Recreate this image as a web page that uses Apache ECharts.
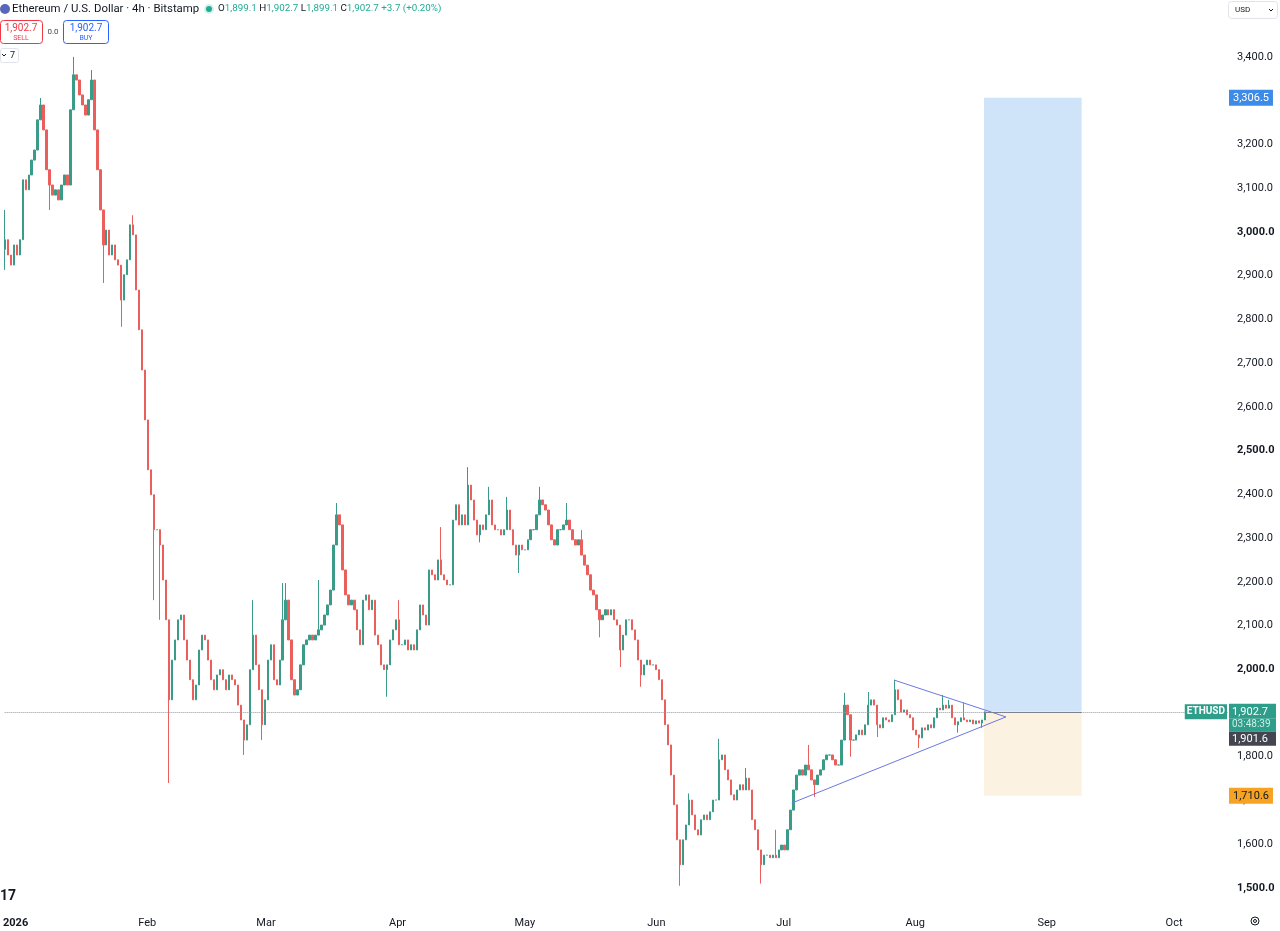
<!DOCTYPE html>
<html><head><meta charset="utf-8">
<script src="https://cdn.jsdelivr.net/npm/echarts@6/dist/echarts.min.js"></script>
<style>html,body{margin:0;padding:0;background:#fff;overflow:hidden}#c{width:1280px;height:931px}</style>
</head><body><div id="c"></div>
<script>
// ---- data ----
const START_TIME = '2025-12-29T10:30:00';
const STEP_HOURS = 16.9;
const FIRST_OPEN = 2960;
const closes = [
2982,2947,2924,2970,2947,2982,3119,3096,3130,3164,
3187,3256,3290,3233,3142,3107,3084,3096,3073,3107,
3130,3107,3279,3359,3347,3313,3290,3267,3302,3347,
3233,3142,3050,2970,3004,2947,2970,2936,2924,2844,
2902,2936,3016,2993,2867,2776,2684,2570,2456,2399,
2319,2319,2284,2204,2113,1930,2021,2067,2113,2124,
2067,2021,1976,1930,1964,2044,2078,2067,2021,1976,
1953,1987,1999,1976,1953,1987,1976,1964,1918,1884,
1838,1873,1999,2078,2010,1953,1873,1930,2021,2056,
1976,1964,2021,2113,2158,2067,1976,1941,1953,2010,
2056,2067,2078,2067,2078,2090,2101,2124,2147,2181,
2284,2353,2330,2227,2170,2147,2158,2136,2090,2056,
2158,2170,2136,2158,2078,2056,2010,1999,2010,2067,
2090,2113,2056,2056,2067,2044,2056,2044,2090,2147,
2124,2101,2227,2216,2204,2250,2216,2204,2193,2193,
2341,2376,2330,2353,2330,2421,2387,2341,2307,2330,
2319,2353,2387,2330,2319,2319,2307,2319,2364,2319,
2284,2261,2284,2273,2273,2296,2319,2319,2353,2387,
2376,2364,2330,2296,2284,2319,2319,2330,2341,2319,
2296,2284,2296,2261,2238,2216,2181,2170,2136,2113,
2124,2136,2124,2136,2113,2101,2044,2078,2113,2113,
2090,2067,2021,1987,2010,2021,2010,2010,1999,1976,
1930,1873,1827,1758,1690,1610,1553,1610,1644,1701,
1667,1633,1621,1656,1667,1656,1674,1701,1701,1793,
1804,1770,1747,1713,1701,1724,1736,1724,1751,1724,
1656,1633,1587,1553,1575,1575,1569,1575,1569,1587,
1598,1587,1633,1678,1724,1758,1770,1758,1781,1770,
1747,1736,1758,1770,1793,1804,1804,1793,1781,1781,
1838,1918,1896,1838,1838,1850,1861,1850,1873,1918,
1930,1918,1873,1866,1889,1884,1880,1896,1953,1930,
1902,1907,1896,1889,1861,1850,1843,1866,1861,1873,
1866,1889,1911,1907,1918,1911,1918,1889,1873,1880,
1889,1884,1880,1884,1875,1882,1877,1884,1902.7
];
// visible wicks: candle index, high, low
const spikeIndex = [0,12,15,23,29,33,39,43,50,52,55,80,83,86,93,94,105,111,128,132,146,155,159,162,168,172,179,188,193,199,206,213,226,229,239,248,253,258,263,269,271,281,283,289,292,298,306,314,316,319,321,327];
const spikeHigh  = [3050,3306,null,3400,3370,null,null,3038,null,null,null,null,2158,null,2197,2197,2204,2380,null,2158,2325,2462,null,2417,2394,null,2417,2380,2318,null,null,null,null,1716,1841,1774,null,1633,null,1827,null,1946,null,1948,null,1976,null,1941,1930,null,1924,null];
const spikeLow   = [2913,null,3050,null,null,2883,2783,null,2158,2113,1740,1804,null,1838,null,null,null,null,1937,null,null,null,2290,null,null,2220,null,null,null,2073,2005,1960,1505,null,null,null,1510,null,1655,null,1708,null,1800,null,1845,null,1820,null,null,1855,null,1866];

const LAST_PRICE = 1902.7;
const BID_PRICE = 1901.6;
const COUNTDOWN = '03:48:39';
const TARGET_PRICE = 3306.5;
const STOP_PRICE = 1710.6;
const POSITION_START = '2026-08-17T05:00:00';
const POSITION_END = '2026-09-09T05:00:00';
const trianglePoints = [
  ['2026-07-27T02:00:00', 1975],
  ['2026-08-22T09:00:00', 1891],
  ['2026-07-02T21:30:00', 1694]
];
const X_MIN = '2025-12-29T10:00:00';
const X_MAX = '2026-10-13T17:00:00';
const Y_MIN = 1461;
const Y_MAX = 3530;

// ---- build candles ----
const t0 = new Date(START_TIME).getTime();
const candles = closes.map((c, i) => {
  const o = i ? closes[i - 1] : FIRST_OPEN;
  let h = Math.max(o, c), l = Math.min(o, c);
  const k = spikeIndex.indexOf(i);
  if (k >= 0) {
    if (spikeHigh[k] != null) h = Math.max(h, spikeHigh[k]);
    if (spikeLow[k] != null) l = Math.min(l, spikeLow[k]);
  }
  return [t0 + i * STEP_HOURS * 3600000, o, c, l, h];
});
const fmt = v => v.toLocaleString('en-US', {minimumFractionDigits: 1, maximumFractionDigits: 1});
const ts = s => new Date(s).getTime();

const FONT = 'Roboto, "Noto Sans", sans-serif';
const UP = '#3a9c88', DOWN = '#ea5f5c';
const HIDDEN = {color: 'rgba(0,0,0,0)', width: 0};
const chart = echarts.init(document.getElementById('c'));
chart.setOption({
  animation: false,
  backgroundColor: '#ffffff',
  textStyle: {fontFamily: FONT},
  grid: {left: 0, right: 52, top: 0, bottom: 26},
  xAxis: {
    type: 'time', min: ts(X_MIN), max: ts(X_MAX), splitNumber: 10,
    axisLine: {show: false}, axisTick: {show: false}, splitLine: {show: false},
    axisLabel: {
      color: '#131722', fontSize: 11, margin: 13, fontFamily: FONT,
      formatter: {year: '{yr|{yyyy}}', month: '{MMM}', day: '', hour: '', minute: ''},
      rich: {yr: {fontWeight: 'bold', fontSize: 11, color: '#131722'}}
    }
  },
  yAxis: {
    type: 'value', position: 'right', min: Y_MIN, max: Y_MAX, splitNumber: 20, scale: true,
    axisLine: {show: false}, axisTick: {show: false}, splitLine: {show: false},
    axisLabel: {
      color: '#131722', fontSize: 11, margin: 9, fontFamily: FONT,
      showMinLabel: false, showMaxLabel: false,
      formatter: v => {
        if (v > 3450) return '';
        const s = fmt(v);
        return v % 500 === 0 ? '{b|' + s + '}' : s;
      },
      rich: {b: {fontWeight: 'bold', fontSize: 11, color: '#131722'}}
    }
  },
  series: [
    {
      type: 'candlestick', data: candles, barWidth: 1.8,
      itemStyle: {color: UP, color0: DOWN, borderColor: UP, borderColor0: DOWN, borderWidth: 1},
      markArea: {
        silent: true,
        data: [
          [{coord: [ts(POSITION_START), LAST_PRICE], itemStyle: {color: '#cfe3f9'}}, {coord: [ts(POSITION_END), TARGET_PRICE]}],
          [{coord: [ts(POSITION_START), STOP_PRICE], itemStyle: {color: '#fbf2e1'}}, {coord: [ts(POSITION_END), LAST_PRICE]}]
        ]
      },
      markLine: {
        silent: true, symbol: 'none',
        data: [
          [{coord: [ts(POSITION_START), LAST_PRICE], lineStyle: {color: '#6b6e78', width: 1, type: 'solid'}, label: {show: false}},
           {coord: [ts(POSITION_END), LAST_PRICE]}],
          {yAxis: TARGET_PRICE, lineStyle: HIDDEN,
           label: {show: true, position: 'end', distance: 1, formatter: fmt(TARGET_PRICE), color: '#fff',
                   backgroundColor: '#3d8be8', padding: [3, 4, 2, 4], fontSize: 11, fontFamily: FONT}},
          {yAxis: STOP_PRICE, lineStyle: HIDDEN,
           label: {show: true, position: 'end', distance: 1, formatter: fmt(STOP_PRICE), color: '#131722',
                   backgroundColor: '#f6a323', padding: [3, 4, 2, 4], fontSize: 11, fontFamily: FONT}},
          {yAxis: LAST_PRICE, lineStyle: HIDDEN,
           label: {show: true, position: 'insideEnd', distance: 1, formatter: 'ETHUSD', color: '#fff',
                   backgroundColor: '#2e9e8a', padding: [3, 2, 2, 2], fontSize: 10, fontWeight: 'bold', fontFamily: FONT}},
          {yAxis: LAST_PRICE, lineStyle: {color: '#9598a1', width: 1, type: 'dotted'},
           label: {show: true, position: 'end', distance: 1, padding: [26, 0, 0, 0],
                   formatter: '{p|' + fmt(LAST_PRICE) + '}\n{t|' + COUNTDOWN + '}\n{d|' + fmt(BID_PRICE) + '}',
                   rich: {
                     p: {backgroundColor: '#2e9e8a', color: '#fff', width: 42, height: 13, padding: [2, 2, 0, 3], fontSize: 11, fontFamily: FONT},
                     t: {backgroundColor: '#2e9e8a', color: '#cdeee6', width: 42, height: 12, padding: [0, 2, 1, 3], fontSize: 10, fontFamily: FONT},
                     d: {backgroundColor: '#434651', color: '#fff', width: 42, height: 13, padding: [1, 2, 0, 3], fontSize: 11, fontFamily: FONT}
                   }}}
        ]
      }
    },
    {
      type: 'line', data: trianglePoints.map(p => [ts(p[0]), p[1]]), symbol: 'none', silent: true,
      lineStyle: {color: '#6d78e0', width: 1}
    }
  ],
  graphic: [
    {type: 'circle', shape: {cx: 5, cy: 9, r: 5}, style: {fill: '#5a67b8'}},
    {type: 'text', style: {x: 12, y: 9, text: 'Ethereum / U.S. Dollar · 4h · Bitstamp', fill: '#131722', font: '11.4px ' + FONT, verticalAlign: 'middle'}},
    {type: 'circle', shape: {cx: 209, cy: 9, r: 5}, style: {fill: '#d7efe9'}},
    {type: 'circle', shape: {cx: 209, cy: 9, r: 3}, style: {fill: '#22ab94'}},
    {type: 'text', style: {x: 218, y: 9, verticalAlign: 'middle', font: '9.8px ' + FONT,
      text: '{k|O}{v|1,899.1} {k|H}{v|1,902.7} {k|L}{v|1,899.1} {k|C}{v|1,902.7} {v|+3.7 (+0.20%)}',
      rich: {k: {fill: '#131722', fontSize: 9.8, fontFamily: FONT}, v: {fill: '#22ab94', fontSize: 9.8, fontFamily: FONT}}}},
    {type: 'rect', shape: {x: 0.5, y: 20.5, width: 42, height: 23, r: 3}, style: {fill: '#fff', stroke: '#f23645', lineWidth: 1}},
    {type: 'text', style: {x: 21, y: 28, text: '1,902.7', fill: '#f23645', font: '10px ' + FONT, align: 'center', verticalAlign: 'middle'}},
    {type: 'text', style: {x: 21, y: 38, text: 'SELL', fill: '#f23645', font: '7px ' + FONT, align: 'center', verticalAlign: 'middle'}},
    {type: 'text', style: {x: 53, y: 32, text: '0.0', fill: '#434651', font: '8px ' + FONT, align: 'center', verticalAlign: 'middle'}},
    {type: 'rect', shape: {x: 63.5, y: 20.5, width: 45, height: 23, r: 3}, style: {fill: '#fff', stroke: '#2962ff', lineWidth: 1}},
    {type: 'text', style: {x: 86, y: 28, text: '1,902.7', fill: '#2962ff', font: '10px ' + FONT, align: 'center', verticalAlign: 'middle'}},
    {type: 'text', style: {x: 86, y: 38, text: 'BUY', fill: '#2962ff', font: '7px ' + FONT, align: 'center', verticalAlign: 'middle'}},
    {type: 'rect', shape: {x: 0.5, y: 48.5, width: 18, height: 14, r: 2}, style: {fill: '#fff', stroke: '#e0e3eb', lineWidth: 1}},
    {type: 'polyline', shape: {points: [[2, 54], [4, 56], [6, 54]]}, style: {stroke: '#131722', lineWidth: 1, fill: null}},
    {type: 'text', style: {x: 10, y: 56, text: '7', fill: '#131722', font: '9px ' + FONT, verticalAlign: 'middle'}},
    {type: 'rect', shape: {x: 1228.5, y: 1.5, width: 49, height: 17, r: 3}, style: {fill: '#fff', stroke: '#e0e3eb', lineWidth: 1}},
    {type: 'text', style: {x: 1235, y: 10, text: 'USD', fill: '#131722', font: '8px ' + FONT, verticalAlign: 'middle'}},
    {type: 'polyline', shape: {points: [[1269, 9], [1271, 11], [1273, 9]]}, style: {stroke: '#131722', lineWidth: 1, fill: null}},
    {type: 'circle', shape: {cx: 1255, cy: 921, r: 4}, style: {fill: null, stroke: '#131722', lineWidth: 1}},
    {type: 'circle', shape: {cx: 1255, cy: 921, r: 1.5}, style: {fill: null, stroke: '#131722', lineWidth: 1}},
    {type: 'text', style: {x: 0, y: 896, text: '17', fill: '#131722', font: 'bold 14px ' + FONT, verticalAlign: 'middle'}}
  ]
});
</script>
</body></html>
